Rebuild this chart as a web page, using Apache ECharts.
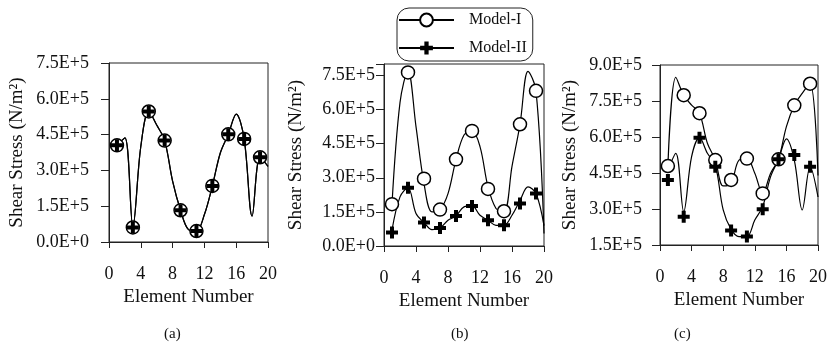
<!DOCTYPE html>
<html>
<head>
<meta charset="utf-8">
<script src="https://cdn.jsdelivr.net/npm/echarts@6/dist/echarts.min.js"></script>
<style>
  html, body { margin: 0; padding: 0; background: #fff; }
  #chart { width: 830px; height: 347px; }
</style>
</head>
<body>
<div id="chart"></div>
<script>
// element numbers
const elemAll = [1, 2, 3, 4, 5, 6, 7, 8, 9, 10, 11, 12, 13, 14, 15, 16, 17, 18, 19, 20]
const elemOdd = [1, 3, 5, 7, 9, 11, 13, 15, 17, 19]
const xTicks = [0, 4, 8, 12, 16, 20]

// (a) both models give the same result
const aModel1Curve = [405000, 436000, 65000, 400000, 547000, 490000, 425000, 255000, 133000, 52000, 46000, 115000, 235000, 373000, 451000, 536000, 432000, 108000, 355000, 317000]
const aModel2Curve = [405000, 436000, 65000, 400000, 547000, 490000, 425000, 255000, 133000, 52000, 46000, 115000, 235000, 373000, 451000, 536000, 432000, 108000, 355000, 317000]
const aModel1Marks = [405000, 61000, 547000, 425000, 133000, 46000, 235000, 451000, 432000, 355000]
const aModel2Marks = [405000, 61000, 547000, 425000, 133000, 46000, 235000, 451000, 432000, 355000]

// (b)
const bModel1Curve = [184000, 630000, 770000, 525000, 275000, 150000, 160000, 230000, 380000, 488000, 506000, 437000, 260000, 165000, 150000, 350000, 535000, 768000, 682000, 55000]
const bModel2Curve = [70000, 216000, 256000, 143000, 103000, 72000, 79000, 113000, 132000, 172000, 176000, 135000, 113000, 91000, 91000, 135000, 200000, 260000, 231000, 90000]
const bModel1Marks = [184000, 763000, 296000, 160000, 381000, 506000, 251000, 153000, 535000, 682000]
const bModel2Marks = [59000, 256000, 103000, 79000, 132000, 176000, 113000, 91000, 187000, 231000]

// (c)
const cModel1Curve = [480000, 849000, 774000, 733000, 699000, 574000, 504000, 396000, 407000, 504000, 510000, 449000, 365000, 449000, 507000, 643000, 732000, 782000, 822000, 440000]
const cModel2Curve = [460000, 532000, 289000, 518000, 597000, 532000, 483000, 296000, 215000, 185000, 185000, 254000, 310000, 435000, 507000, 592000, 504000, 296000, 476000, 350000]
const cModel1Marks = [479000, 774000, 699000, 504000, 421000, 510000, 365000, 507000, 732000, 822000]
const cModel2Marks = [421000, 268000, 597000, 476000, 210000, 185000, 299000, 507000, 525000, 476000]

const plusPath = 'path://M4,0h4v4h4v4h-4v4h-4v-4h-4v-4h4z'
const font = 'Liberation Serif'

const grids = [
  { left: 109, top: 63, width: 159, height: 179 },
  { left: 384, top: 64, width: 160, height: 182 },
  { left: 660, top: 65, width: 159, height: 180 },
]
const yRanges = [
  [0, 750000],
  [0, 800000],
  [150000, 900000],
]
const yLabelMargin = [20, 9, 18]
const yNameGap = [82, 78, 80]

function pairs(xs, ys) {
  return xs.map((x, i) => [x, ys[i]])
}

function yFmt(v) {
  const k = v / 150000
  if (Math.abs(k - Math.round(k)) > 1e-6) return ''
  if (v === 0) return '0.0E+0'
  return (v / 100000).toFixed(1) + 'E+5'
}

const xAxis = grids.map((g, i) => ({
  type: 'value',
  gridIndex: i,
  min: 0,
  max: 20,
  interval: 4,
  name: 'Element Number',
  nameLocation: 'middle',
  nameGap: 43,
  nameTextStyle: { fontFamily: font, fontSize: 19, color: '#111' },
  axisLine: { lineStyle: { color: '#222', width: 1 } },
  axisTick: { inside: false, length: 6, lineStyle: { color: '#222' } },
  axisLabel: { fontFamily: font, fontSize: 18, color: '#111', margin: 23 },
  splitLine: { show: false },
}))

const yAxis = grids.map((g, i) => ({
  type: 'value',
  gridIndex: i,
  min: yRanges[i][0],
  max: yRanges[i][1],
  interval: 150000,
  name: 'Shear Stress (N/m²)',
  nameLocation: 'middle',
  nameGap: yNameGap[i],
  nameTextStyle: { fontFamily: font, fontSize: 19, color: '#111' },
  axisLine: { lineStyle: { color: '#222', width: 1 } },
  axisTick: { inside: false, length: 8, lineStyle: { color: '#222' } },
  axisLabel: { fontFamily: font, fontSize: 18, color: '#111', margin: yLabelMargin[i], formatter: yFmt },
  splitLine: { show: false },
}))

const panels = [
  [aModel1Curve, aModel2Curve, aModel1Marks, aModel2Marks],
  [bModel1Curve, bModel2Curve, bModel1Marks, bModel2Marks],
  [cModel1Curve, cModel2Curve, cModel1Marks, cModel2Marks],
]

let curves = []
let marks = []
panels.forEach((p, i) => {
  curves.push({
    name: 'Model-I',
    type: 'line',
    xAxisIndex: i,
    yAxisIndex: i,
    data: pairs(elemAll, p[0]),
    smooth: 0.35,
    symbol: 'emptyCircle',
    showSymbol: false,
    color: '#000',
    lineStyle: { color: '#000', width: 1.2 },
    itemStyle: { color: '#000' },
    silent: true,
    z: 2,
  })
  curves.push({
    name: 'Model-II',
    type: 'line',
    xAxisIndex: i,
    yAxisIndex: i,
    data: pairs(elemAll, p[1]),
    smooth: 0.35,
    symbol: plusPath,
    showSymbol: false,
    color: '#000',
    lineStyle: { color: '#000', width: 1.2 },
    itemStyle: { color: '#000' },
    silent: true,
    z: 2,
  })
  marks.push({
    name: 'Model-I',
    type: 'scatter',
    xAxisIndex: i,
    yAxisIndex: i,
    data: pairs(elemOdd, p[2]),
    symbol: 'circle',
    symbolSize: 13,
    itemStyle: { color: '#fff', borderColor: '#000', borderWidth: 1.5, opacity: 1 },
    z: 3,
  })
  marks.push({
    name: 'Model-II',
    type: 'scatter',
    xAxisIndex: i,
    yAxisIndex: i,
    data: pairs(elemOdd, p[3]),
    symbol: plusPath,
    symbolSize: 12,
    itemStyle: { color: '#000', opacity: 1 },
    z: 4,
  })
})

const chart = echarts.init(document.getElementById('chart'))
chart.setOption({
  animation: false,
  backgroundColor: '#fff',
  grid: grids.map((g) => ({ ...g, show: true, borderColor: '#222', borderWidth: 1, backgroundColor: 'transparent' })),
  xAxis: xAxis,
  yAxis: yAxis,
  legend: {
    data: ['Model-I', 'Model-II'],
    orient: 'vertical',
    left: 397,
    top: 8,
    itemWidth: 55,
    itemHeight: 16,
    itemGap: 12,
    padding: [4, 6, 5, 1],
    borderColor: '#222',
    borderWidth: 1,
    borderRadius: 12,
    textStyle: { fontFamily: font, fontSize: 16, color: '#111', padding: [0, 0, 0, 10] },
    selectedMode: false,
  },
  title: [
    { text: '(a)', left: 164, top: 327 },
    { text: '(b)', left: 451, top: 327 },
    { text: '(c)', left: 674, top: 327 },
  ].map((t) => ({ ...t, padding: 0, textStyle: { fontFamily: font, fontSize: 15, fontWeight: 'normal', color: '#111' } })),
  series: curves.concat(marks),
})
</script>
</body>
</html>
